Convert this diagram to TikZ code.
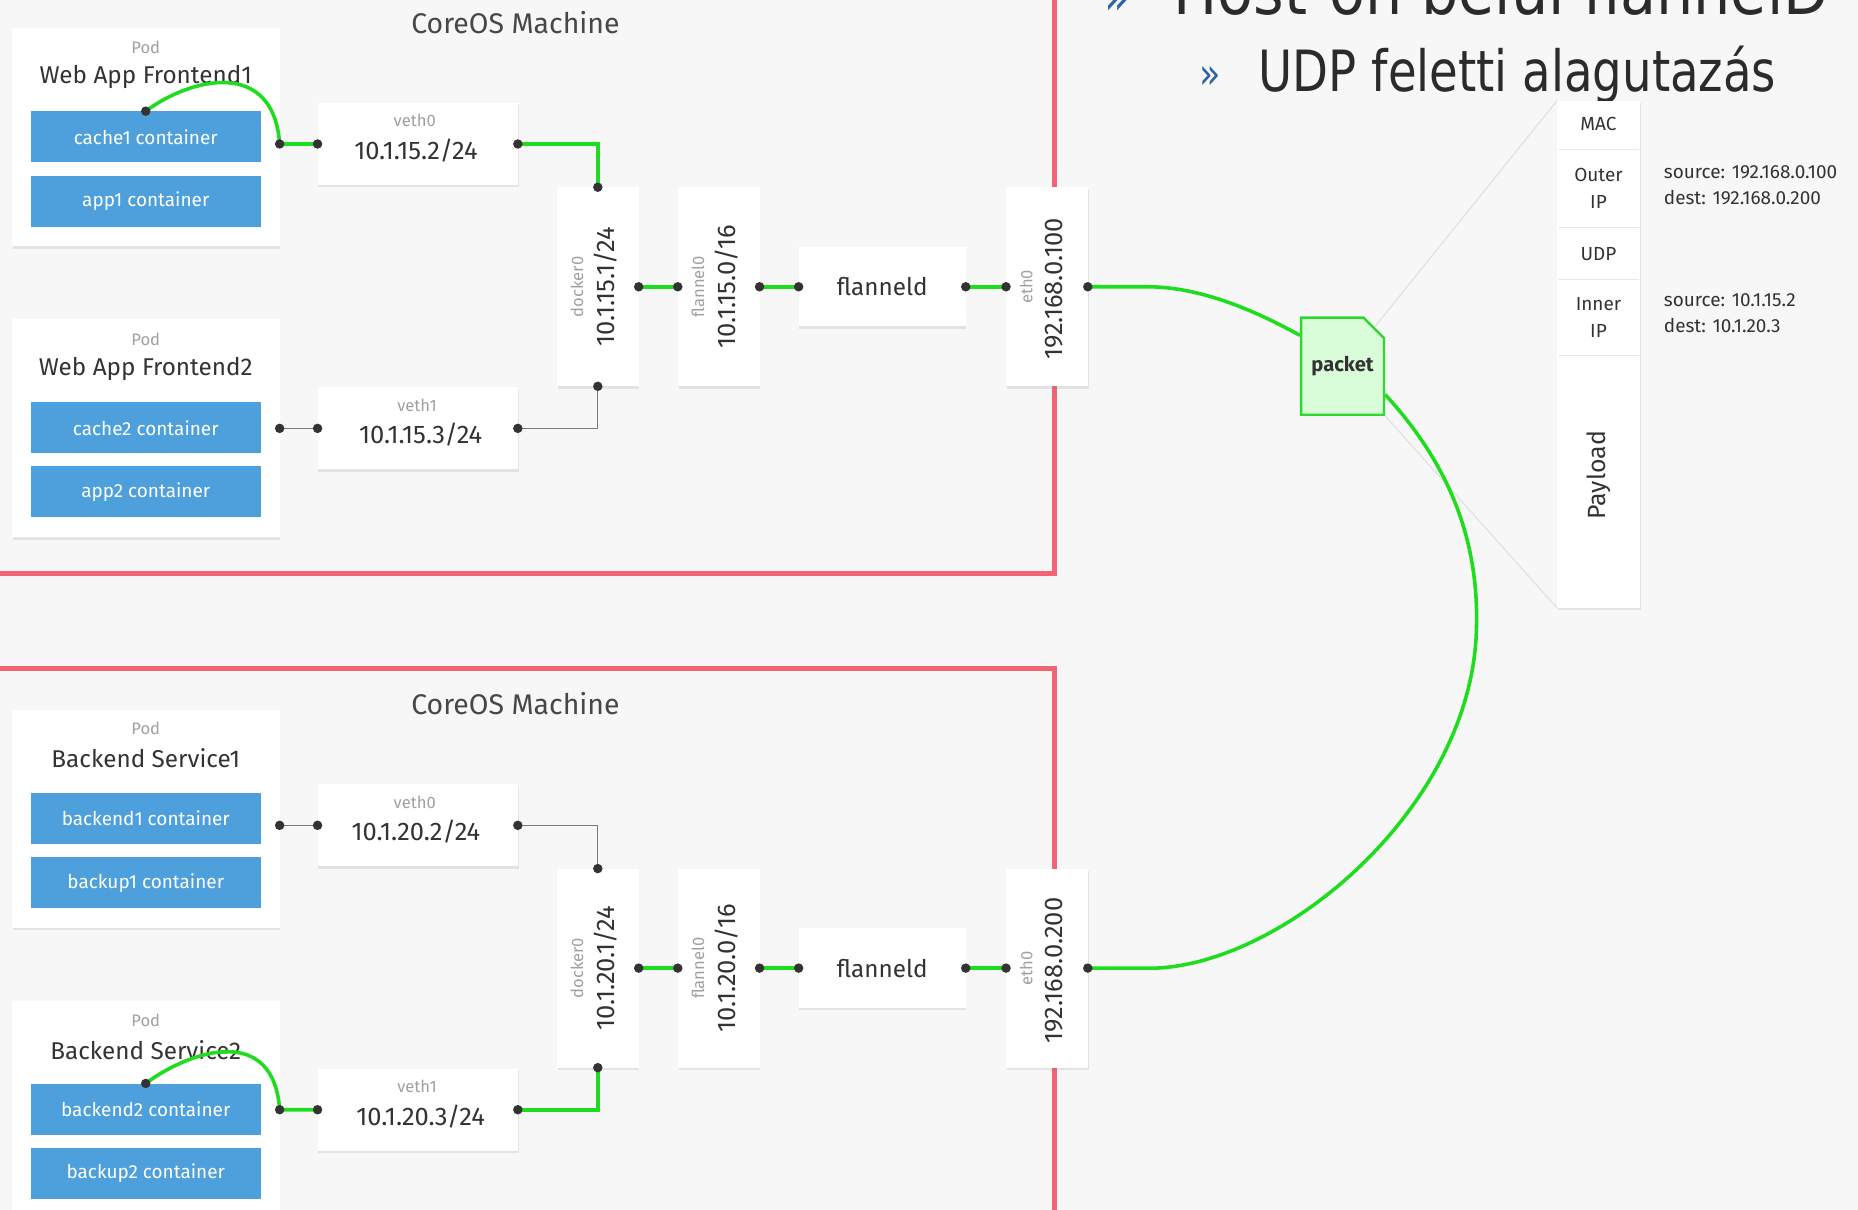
\documentclass[tikz,border=0pt]{standalone}
\usepackage{fontspec}
\setmainfont{Fira Sans}
\newfontfamily\titlefont{DejaVu Sans}
\usetikzlibrary{shapes.misc,shadows,calc}
\definecolor{bgc}{HTML}{F7F7F7}
\definecolor{machred}{HTML}{F26374}
\definecolor{lgreen}{HTML}{1EDC1E}
\definecolor{contblue}{HTML}{4DA0DC}
\definecolor{pkfill}{HTML}{DAFDD9}
\definecolor{pkdraw}{HTML}{2ED82E}
\definecolor{darktext}{HTML}{333333}
\definecolor{lighttext}{HTML}{A0A0A0}
\definecolor{dotc}{HTML}{333333}
\definecolor{linegray}{HTML}{7A7A7A}
\definecolor{faintc}{HTML}{E2E2E2}
\definecolor{divc}{HTML}{E8E8E8}
\definecolor{titlec}{HTML}{2B2B2B}
\definecolor{titleblue}{HTML}{2E64A0}
\newcommand\pdot[1]{\fill[dotc] (#1) circle[radius=4pt];}
\begin{document}
\begin{tikzpicture}[x=1pt,y=-1pt,
  whitebox/.style={fill=white, inner sep=0pt, outer sep=0pt,
     drop shadow={shadow xshift=0.6pt, shadow yshift=-2pt, opacity=0.16}},
  podbox/.style={whitebox, minimum width=226pt, minimum height=184pt},
  contbox/.style={fill=contblue, inner sep=0pt, minimum width=194pt, minimum height=43pt, text=white, font=\fontsize{16}{19}\selectfont},
  vethbox/.style={whitebox, minimum width=169pt, minimum height=69pt},
  ifbox/.style={whitebox, minimum width=69pt, minimum height=168pt},
  fdbox/.style={whitebox, minimum width=141pt, minimum height=67pt, text=darktext, font=\fontsize{20.5}{24}\selectfont},
  smalllbl/.style={text=lighttext, font=\fontsize{14}{16}\selectfont, inner sep=0pt},
  iplbl/.style={text=darktext, font=\fontsize{21.5}{25}\selectfont, inner sep=0pt},
  podtitle/.style={text=darktext, font=\fontsize{20.5}{24}\selectfont, inner sep=0pt},
  machlbl/.style={text=darktext!90, font=\fontsize{24}{28}\selectfont, inner sep=0pt},
  gline/.style={draw=lgreen, line width=3pt},
  kline/.style={draw=linegray, line width=1pt},
  redline/.style={draw=machred, line width=4.5pt},
  hdrlbl/.style={text=darktext, font=\fontsize{16}{23}\selectfont, align=center, inner sep=0pt},
  infolbl/.style={text=darktext, font=\fontsize{16}{22}\selectfont, align=left, anchor=west, inner sep=0pt},
  titlelbl/.style={anchor=base west, xscale=0.82, inner sep=0pt, text=titlec},
]
\useasboundingbox (0,0) rectangle (1568,1021);
\fill[bgc] (0,0) rectangle (1568,1021);
\clip (0,0) rectangle (1568,1021);

% machine borders
\draw[redline] (-20,484) -- (890,484) -- (890,-20);
\draw[redline] (-20,564) -- (890,564) -- (890,1040);

% title (first line is cut by the top edge, as in the reference)
\node[titlelbl, xscale=1.08, font=\titlefont\fontsize{56}{60}\selectfont] (t1) at (990,12) {Host-on belül flannelD};
\node[titlelbl, text=titleblue, font=\titlefont\fontsize{44}{50}\selectfont] (b1) at (932,12) {»};
\node[titlelbl, font=\titlefont\fontsize{48}{52}\selectfont] (t2) at (1062,77) {UDP feletti alagutazás};
\node[titlelbl, text=titleblue, font=\titlefont\fontsize{36}{40}\selectfont] (b2) at (1012,75) {»};

% ---------- top machine ----------
\node[machlbl] (m1) at (435,19) {CoreOS Machine};

\node[podbox] (pod1) at (123,116) {};
\node[smalllbl] (pod1p) at (123,40) {Pod};
\node[podtitle] (pod1t) at (123,65) {Web App Frontend1};
\node[contbox] (c1) at (123,115.5) {cache1 container};
\node[contbox] (c2) at (123,170) {app1 container};

\node[podbox] (pod2) at (123,361.5) {};
\node[smalllbl] (pod2p) at (123,286) {Pod};
\node[podtitle] (pod2t) at (123,311) {Web App Frontend2};
\node[contbox] (c3) at (123,361) {cache2 container};
\node[contbox] (c4) at (123,415) {app2 container};

\node[vethbox] (va) at (352.5,121.5) {};
\node[smalllbl] (val) at (350,102) {veth0};
\node[iplbl] (vai) at (351,127) {10.1.15.2/24};
\node[vethbox] (vb) at (352.5,361.5) {};
\node[smalllbl] (vbl) at (352,342) {veth1};
\node[iplbl] (vbi) at (355,367) {10.1.15.3/24};

\node[ifbox] (dk) at (504.5,242) {};
\node[smalllbl, rotate=90] (dkl) at (487,242) {docker0};
\node[iplbl, rotate=90] (dki) at (511,242) {10.1.15.1/24};
\node[ifbox] (fl) at (606.5,242) {};
\node[smalllbl, rotate=90] (fll) at (589,242) {flannel0};
\node[iplbl, rotate=90] (fli) at (613,242) {10.1.15.0/16};
\node[fdbox] (fd) at (744.5,242) {flanneld};
\node[ifbox] (et) at (883.5,242) {};
\node[smalllbl, rotate=90] (etl) at (866,242) {eth0};
\node[iplbl, rotate=90] (eti) at (890,244) {192.168.0.100};

% ---------- bottom machine ----------
\node[machlbl] (m2) at (435,594) {CoreOS Machine};

\node[podbox] (pod3) at (123,691) {};
\node[smalllbl] (pod3p) at (123,615) {Pod};
\node[podtitle] (pod3t) at (123,640) {Backend Service1};
\node[contbox] (c5) at (123,690.5) {backend1 container};
\node[contbox] (c6) at (123,745) {backup1 container};

\node[podbox] (pod4) at (123,936.5) {};
\node[smalllbl] (pod4p) at (123,861) {Pod};
\node[podtitle] (pod4t) at (123,886) {Backend Service2};
\node[contbox] (c7) at (123,936) {backend2 container};
\node[contbox] (c8) at (123,990) {backup2 container};

\node[vethbox] (vc) at (352.5,696.5) {};
\node[smalllbl] (vcl) at (350,677) {veth0};
\node[iplbl] (vci) at (351,702) {10.1.20.2/24};
\node[vethbox] (vd) at (352.5,936.5) {};
\node[smalllbl] (vdl) at (352,917) {veth1};
\node[iplbl] (vdi) at (355,942) {10.1.20.3/24};

\node[ifbox] (dkb) at (504.5,817) {};
\node[smalllbl, rotate=90] (dkbl) at (487,817) {docker0};
\node[iplbl, rotate=90] (dkbi) at (511,817) {10.1.20.1/24};
\node[ifbox] (flb) at (606.5,817) {};
\node[smalllbl, rotate=90] (flbl) at (589,817) {flannel0};
\node[iplbl, rotate=90] (flbi) at (613,817) {10.1.20.0/16};
\node[fdbox] (fdb) at (744.5,817) {flanneld};
\node[ifbox] (etb) at (883.5,817) {};
\node[smalllbl, rotate=90] (etbl) at (866,817) {eth0};
\node[iplbl, rotate=90] (etbi) at (890,819) {192.168.0.200};

% ---------- packet and header ----------
\node[chamfered rectangle, chamfered rectangle corners=north east,
      chamfered rectangle xsep=9pt, chamfered rectangle ysep=9pt,
      fill=pkfill, draw=pkdraw, line width=2pt, inner sep=0pt,
      minimum width=70pt, minimum height=82pt, text=darktext,
      font=\bfseries\fontsize{17}{20}\selectfont] (pk) at (1133,309) {packet};

\node[whitebox, minimum width=70pt, minimum height=428pt] (hdr) at (1349,299) {};
\foreach \yy in {126,192,236,300} \draw[divc, line width=1.2pt] (1315,\yy) -- (1383,\yy);
\node[hdrlbl] (hmac) at (1349,105) {MAC};
\node[hdrlbl] (houter) at (1349,159) {Outer\\IP};
\node[hdrlbl] (hudp) at (1349,214) {UDP};
\node[hdrlbl] (hinner) at (1349,268) {Inner\\IP};
\node[hdrlbl, rotate=90, font=\fontsize{21}{24}\selectfont] (hpay) at (1349,401) {Payload};
\node[infolbl] (outerinfo) at (1404,156) {source: 192.168.0.100\\dest: 192.168.0.200};
\node[infolbl] (innerinfo) at (1404,264) {source: 10.1.15.2\\dest: 10.1.20.3};

\draw[faintc, line width=1pt] (pk.north east) -- (hdr.north west);
\draw[faintc, line width=1pt] (pk.south east) -- (hdr.south west);

% ---------- connectors top ----------
\draw[gline] (c1.north) .. controls +(39,-29) and +(-5,-72) .. (pod1.east |- va.west) -- (va.west);
\draw[gline] (va.east) -| (dk.north);
\draw[kline] (pod2.east |- vb.west) -- (vb.west);
\draw[kline] (vb.east) -| (dk.south);
\draw[gline] (dk.east) -- (fl.west);
\draw[gline] (fl.east) -- (fd.west);
\draw[gline] (fd.east) -- (et.west);

% ---------- connectors bottom ----------
\draw[kline] (pod3.east |- vc.west) -- (vc.west);
\draw[kline] (vc.east) -| (dkb.north);
\draw[gline] (c7.north) .. controls +(39,-29) and +(-5,-72) .. (pod4.east |- vd.west) -- (vd.west);
\draw[gline] (vd.east) -| (dkb.south);
\draw[gline] (dkb.east) -- (flb.west);
\draw[gline] (flb.east) -- (fdb.west);
\draw[gline] (fdb.east) -- (etb.west);

% ---------- tunnel ----------
\coordinate (arcR) at (1246,530);
\draw[gline] (et.east) -- ++(50,0) .. controls +(45,0) and +(-38,-21) .. ($(pk.west)+(0,-26)$);
\draw[gline] ($(pk.east)+(0,24)$) .. controls +(57,62) and +(2,-70) .. (arcR)
   .. controls +(-3,150) and +(110,-4) .. ($(etb.east)+(57,0)$) -- (etb.east);

% ---------- dots ----------
\foreach \p in {c1.north, pod1.east |- va.west, va.west, va.east, dk.north,
  pod2.east |- vb.west, vb.west, vb.east, dk.south, dk.east, fl.west, fl.east,
  fd.west, fd.east, et.west, et.east,
  pod3.east |- vc.west, vc.west, vc.east, dkb.north,
  c7.north, pod4.east |- vd.west, vd.west, vd.east, dkb.south, dkb.east, flb.west, flb.east,
  fdb.west, fdb.east, etb.west, etb.east} {\pdot{\p}}
\end{tikzpicture}
\end{document}
